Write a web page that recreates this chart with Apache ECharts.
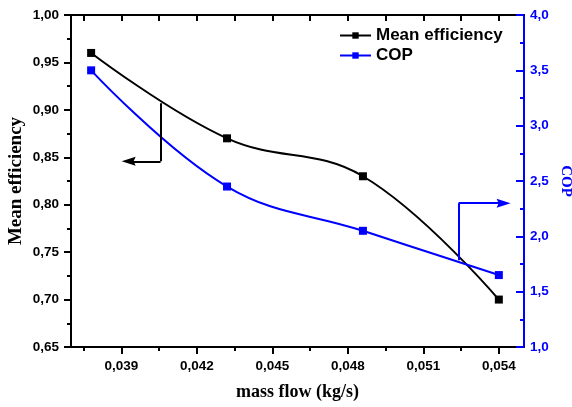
<!DOCTYPE html>
<html>
<head>
<meta charset="utf-8">
<script src="https://cdn.jsdelivr.net/npm/echarts@6/dist/echarts.min.js"></script>
<style>html,body{margin:0;padding:0;background:#fff}#c{width:572px;height:407px}</style>
</head>
<body>
<div id="c"></div>
<script>
// ---- data ----
const massFlow = [0.0378, 0.0432, 0.0486, 0.054];
const meanEfficiency = [0.96, 0.87, 0.83, 0.70];
const cop = [3.5, 2.45, 2.05, 1.65];
const xMajorTicks = [0.039, 0.042, 0.045, 0.048, 0.051, 0.054];
const xMinorTicks = [0.0375, 0.0405, 0.0435, 0.0465, 0.0495, 0.0525];
// annotation arrows (data coordinates)
const effArrow = { x: 0.04056, yTop: 0.907, yBottom: 0.8457, xTip: 0.03929 };
const copArrow = { x: 0.0524, yBottom: 1.783, yTop: 2.30, xTip: 0.05419 };

const BLUE = '#0000ff';
const sans = 'Liberation Sans';
const serif = 'Liberation Serif';
const comma = (v, d) => v.toFixed(d).replace('.', ',');
const ARROW = 'path://M0,14 L5,0 L10,14 L5,12 Z';

const chart = echarts.init(document.getElementById('c'), null, {renderer: 'canvas'});
const xBase = {type: 'value', min: 0.037, max: 0.055, splitLine: {show: false}};
chart.setOption({
  animation: false,
  backgroundColor: '#fff',
  grid: {left: 71, right: 48, top: 15, bottom: 60, containLabel: false, outerBoundsMode: 'none'},
  legend: {
    orient: 'vertical', left: 339, top: 27, padding: 0, itemWidth: 31, itemHeight: 8, itemGap: 3,
    textStyle: {fontFamily: sans, fontWeight: 'bold', fontSize: 17, color: '#000', lineHeight: 17},
    data: ['Mean efficiency', 'COP']
  },
  xAxis: [
    Object.assign({}, xBase, {
      position: 'bottom',
      name: 'mass flow (kg/s)', nameLocation: 'middle', nameGap: 36, nameMoveOverlap: false,
      nameTextStyle: {fontFamily: serif, fontWeight: 'bold', fontSize: 18, color: '#000'},
      axisLine: {lineStyle: {color: '#000', width: 2}},
      axisTick: {show: true, inside: false, length: 7, lineStyle: {width: 2, color: '#000'}, customValues: xMajorTicks},
      axisLabel: {customValues: xMajorTicks, margin: 12, formatter: v => comma(v, 3),
        fontFamily: sans, fontWeight: 'bold', fontSize: 13.5, color: '#000'}
    }),
    Object.assign({}, xBase, {
      position: 'bottom', offset: 0,
      axisLine: {show: false},
      axisTick: {show: true, inside: false, length: 4, lineStyle: {width: 2, color: '#000'}, customValues: xMinorTicks},
      axisLabel: {show: false}
    }),
    Object.assign({}, xBase, {
      position: 'top',
      axisLine: {lineStyle: {color: '#000', width: 2}},
      axisTick: {show: true, inside: true, length: 6, lineStyle: {width: 2, color: '#000'},
        customValues: xMajorTicks.concat(xMinorTicks)},
      axisLabel: {show: false}
    })
  ],
  yAxis: [
    {
      type: 'value', position: 'left', min: 0.65, max: 1.0, interval: 0.05,
      name: 'Mean efficiency', nameLocation: 'middle', nameGap: 45, nameRotate: 90, nameMoveOverlap: false,
      nameTextStyle: {fontFamily: serif, fontWeight: 'bold', fontSize: 19, color: '#000'},
      splitLine: {show: false},
      axisLine: {show: true, lineStyle: {color: '#000', width: 2}},
      axisTick: {show: true, inside: false, length: 7, lineStyle: {width: 2, color: '#000'}},
      minorTick: {show: true, splitNumber: 2, length: 4, lineStyle: {width: 2, color: '#000'}},
      axisLabel: {margin: 12, formatter: v => comma(v, 2),
        fontFamily: sans, fontWeight: 'bold', fontSize: 13.5, color: '#000'}
    },
    {
      type: 'value', position: 'right', min: 1, max: 4, interval: 0.5,
      name: 'COP', nameLocation: 'middle', nameGap: 34, nameRotate: -90, nameMoveOverlap: false,
      nameTextStyle: {fontFamily: serif, fontWeight: 'bold', fontSize: 15, color: BLUE},
      splitLine: {show: false},
      axisLine: {show: true, lineStyle: {color: BLUE, width: 2}},
      axisTick: {show: true, inside: true, length: 8, lineStyle: {width: 2, color: BLUE}},
      minorTick: {show: true, splitNumber: 2, length: 4, lineStyle: {width: 2, color: BLUE}},
      axisLabel: {margin: 6, formatter: v => comma(v, 1),
        fontFamily: sans, fontWeight: 'bold', fontSize: 13.5, color: BLUE}
    }
  ],
  series: [
    {
      name: 'Mean efficiency', type: 'line', xAxisIndex: 0, yAxisIndex: 0,
      data: massFlow.map((x, i) => [x, meanEfficiency[i]]),
      smooth: 0.4, symbol: 'rect', symbolSize: 8,
      lineStyle: {color: '#000', width: 2}, itemStyle: {color: '#000'},
      markLine: {
        silent: true, animation: false,
        lineStyle: {color: '#000', width: 2, type: 'solid'},
        itemStyle: {color: '#000'},
        label: {show: false},
        data: [
          [{coord: [effArrow.x, effArrow.yTop], symbol: 'none'}, {coord: [effArrow.x, effArrow.yBottom], symbol: 'none'}],
          [{coord: [effArrow.x, effArrow.yBottom], symbol: 'none'}, {coord: [effArrow.xTip, effArrow.yBottom], symbol: ARROW, symbolSize: [9, 14]}]
        ]
      }
    },
    {
      name: 'COP', type: 'line', xAxisIndex: 0, yAxisIndex: 1,
      data: massFlow.map((x, i) => [x, cop[i]]),
      smooth: 0.4, symbol: 'rect', symbolSize: 8,
      lineStyle: {color: BLUE, width: 2}, itemStyle: {color: BLUE},
      markLine: {
        silent: true, animation: false,
        lineStyle: {color: BLUE, width: 2, type: 'solid'},
        itemStyle: {color: BLUE},
        label: {show: false},
        data: [
          [{coord: [copArrow.x, copArrow.yBottom], symbol: 'none'}, {coord: [copArrow.x, copArrow.yTop], symbol: 'none'}],
          [{coord: [copArrow.x, copArrow.yTop], symbol: 'none'}, {coord: [copArrow.xTip, copArrow.yTop], symbol: ARROW, symbolSize: [9, 14]}]
        ]
      }
    }
  ]
});
</script>
</body>
</html>
